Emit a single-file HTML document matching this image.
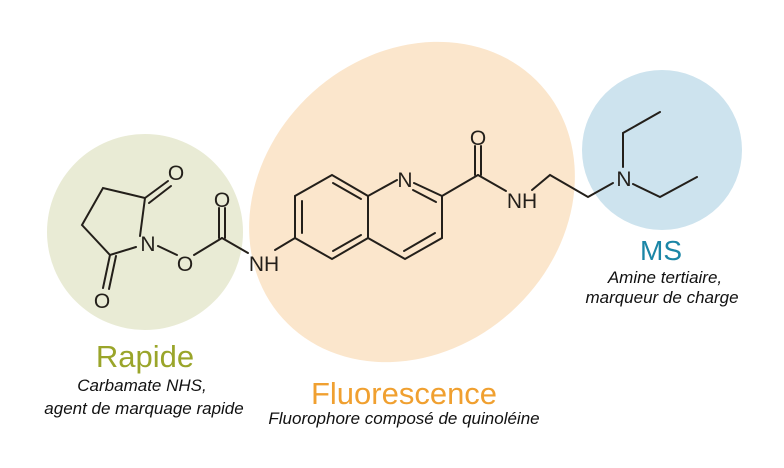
<!DOCTYPE html>
<html><head><meta charset="utf-8"><style>
html,body{margin:0;padding:0;background:#fff;}
svg{display:block;}
text{font-family:"Liberation Sans",sans-serif;}
</style></head><body>
<svg width="784" height="468" viewBox="0 0 784 468" xmlns="http://www.w3.org/2000/svg">
<circle cx="145" cy="232" r="98" fill="#e9ebd5"/>
<ellipse cx="412" cy="202" rx="174" ry="148" transform="rotate(-42 412 202)" fill="#fbe6cc"/>
<circle cx="662" cy="150" r="80" fill="#cde3ee"/>
<g stroke="#231f1a" stroke-width="2" fill="none" stroke-linecap="round">
<polyline points="140,236 145,198 103,188 82,225 110,255 136,247"/>
<line x1="145" y1="198" x2="168" y2="181"/><line x1="149" y1="203" x2="171" y2="186"/>
<line x1="110" y1="255" x2="103" y2="288"/><line x1="116" y1="256" x2="109" y2="289"/>
<line x1="158" y1="246" x2="177" y2="255"/>
<line x1="194" y1="255" x2="222" y2="238"/>
<line x1="219" y1="238" x2="219" y2="208"/><line x1="225" y1="238" x2="225" y2="208"/>
<line x1="222" y1="238" x2="248" y2="253"/>
<line x1="275" y1="250" x2="295" y2="238"/>
<polygon points="332,175 295,196 295,238 332,259 368,238 368,196"/>
<line x1="302" y1="201" x2="302" y2="233"/>
<line x1="333" y1="251" x2="361" y2="235"/>
<line x1="333" y1="183" x2="361" y2="199"/>
<polyline points="368,196 397,180"/>
<polyline points="414,183 442,196 442,238 405,259 368,238"/>
<line x1="413" y1="190" x2="436" y2="202"/>
<line x1="404" y1="251" x2="435" y2="233"/>
<line x1="442" y1="196" x2="478" y2="175"/>
<line x1="475" y1="175" x2="475" y2="146"/><line x1="481" y1="175" x2="481" y2="146"/>
<line x1="478" y1="175" x2="506" y2="191"/>
<polyline points="532,190 550,175 588,197 613,183"/>
<polyline points="623,167 623,133 660,112"/>
<polyline points="633,184 660,197 697,177"/>
</g>
<g fill="#231f1a" font-size="21" text-anchor="middle">
<text x="176" y="180">O</text>
<text x="102" y="308">O</text>
<text x="148" y="251">N</text>
<text x="185" y="271">O</text>
<text x="222" y="207">O</text>
<text x="264" y="271">NH</text>
<text x="405" y="187">N</text>
<text x="478" y="145">O</text>
<text x="522" y="208">NH</text>
<text x="624" y="186">N</text>
</g>
<text x="145" y="367" font-size="31" fill="#9aa52a" text-anchor="middle">Rapide</text>
<g font-size="17" font-style="italic" fill="#111" text-anchor="middle">
<text x="142" y="391">Carbamate NHS,</text>
<text x="144" y="414">agent de marquage rapide</text>
<text x="404" y="424">Fluorophore composé de quinoléine</text>
<text x="665" y="283">Amine tertiaire,</text>
<text x="662" y="303">marqueur de charge</text>
</g>
<text x="404" y="404" font-size="31" fill="#f0a030" text-anchor="middle">Fluorescence</text>
<text x="661" y="260" font-size="28" fill="#1b86a6" text-anchor="middle">MS</text>
</svg>
</body></html>
